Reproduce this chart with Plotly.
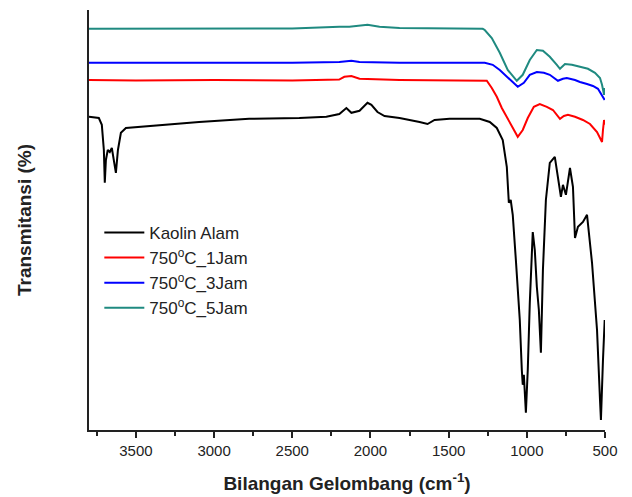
import plotly.graph_objects as go

# Wavenumber (cm-1) and relative transmittance
kaolin_w = [3800, 3737, 3718, 3705, 3699, 3692, 3680, 3667, 3654, 3641, 3628, 3615, 3596, 3564,
            3416, 3096, 2776, 2455, 2282, 2199, 2154, 2122, 2070, 2019, 1994, 1955, 1910, 1814,
            1686, 1635, 1590, 1494, 1301, 1237, 1192, 1154, 1128, 1115, 1103, 1090, 1070, 1045,
            1032, 1026, 1019, 1006, 994, 981, 962, 949, 936, 923, 910, 897, 878, 853, 821, 801,
            782, 769, 750, 724, 705, 692, 673, 641, 615, 583, 551, 532, 526, 513, 502]
kaolin_t = [78.3, 78.0, 76.3, 70.0, 61.8, 67.5, 70.0, 69.5, 70.5, 67.5, 64.3, 70.0, 74.3, 75.5,
            76.0, 77.0, 77.8, 78.0, 78.3, 79.0, 80.5, 79.3, 79.8, 81.8, 81.3, 79.5, 78.5, 78.0,
            77.0, 76.5, 77.5, 77.8, 77.8, 77.0, 75.5, 72.5, 65.8, 56.8, 57.5, 53.8, 42.5, 27.5,
            15.0, 11.3, 13.8, 4.3, 15.0, 31.8, 49.5, 45.0, 35.8, 30.0, 19.3, 40.0, 57.5, 66.8,
            68.3, 63.3, 58.3, 61.3, 58.8, 65.5, 60.8, 48.0, 50.8, 52.0, 53.8, 41.8, 25.0, 7.5,
            2.5, 17.5, 27.5]

j1_w = [3800, 3500, 3000, 2500, 2200, 2167, 2122, 2070, 1814, 1256, 1224, 1192, 1160, 1128,
        1090, 1058, 1026, 994, 955, 917, 872, 833, 788, 763, 737, 692, 641, 596, 551, 519, 513,
        506, 502]
j1_t = [87.5, 87.4, 87.5, 87.4, 87.6, 88.3, 88.5, 87.8, 87.5, 87.3, 85.5, 83.3, 80.5, 78.3,
        75.5, 73.3, 75.0, 78.0, 80.8, 81.5, 80.8, 80.0, 77.8, 78.5, 78.8, 78.3, 77.5, 76.5,
        74.5, 72.0, 75.0, 77.5, 76.3]

j3_w = [3800, 3500, 3000, 2500, 2199, 2122, 2070, 1814, 1269, 1218, 1173, 1109, 1058, 1019,
        981, 936, 891, 853, 801, 769, 744, 692, 660, 615, 577, 545, 519, 502]
j3_t = [91.8, 91.8, 91.8, 91.8, 92.0, 92.3, 92.0, 91.8, 91.8, 91.3, 90.0, 87.8, 85.8, 86.8,
        88.8, 89.5, 89.3, 88.8, 87.3, 87.8, 88.0, 87.5, 87.0, 86.5, 86.0, 85.3, 83.5, 82.5]

j5_w = [3800, 3500, 3000, 2500, 2199, 2135, 2019, 1942, 1814, 1282, 1269, 1224, 1173, 1122,
        1064, 1026, 981, 936, 897, 853, 808, 788, 756, 712, 660, 609, 564, 532, 519, 506, 502]
j5_t = [100.3, 100.3, 100.3, 100.4, 100.8, 100.8, 101.3, 100.8, 100.5, 100.3, 100.0, 98.0,
        94.3, 90.0, 87.3, 88.8, 92.5, 95.0, 94.8, 93.3, 91.3, 90.3, 91.5, 91.3, 90.8, 90.3,
        89.3, 88.0, 86.3, 83.8, 85.5]

series = [
    ("Kaolin Alam", kaolin_w, kaolin_t, "#000000"),
    ("750<sup>o</sup>C_1Jam", j1_w, j1_t, "#ff0000"),
    ("750<sup>o</sup>C_3Jam", j3_w, j3_t, "#0000ff"),
    ("750<sup>o</sup>C_5Jam", j5_w, j5_t, "#1f8a80"),
]

FONT = "Arial, 'Liberation Sans', sans-serif"

fig = go.Figure()
for name, w, t, c in series:
    fig.add_trace(go.Scatter(x=w, y=t, mode="lines", name=name,
                             line=dict(color=c, width=2)))

# the page body adds an 8px margin, so the figure is 624x489
fig.update_layout(
    width=624, height=489,
    margin=dict(l=81, r=27, t=2, b=67),
    paper_bgcolor="white", plot_bgcolor="white",
    font=dict(family=FONT, size=15, color="#222"),
    showlegend=True,
    legend=dict(x=0.020, y=0.512, xanchor="left", yanchor="top",
                font=dict(family=FONT, size=17, color="#222"),
                bgcolor="rgba(0,0,0,0)", itemwidth=40),
    xaxis=dict(range=[3800, 500], showline=True, linecolor="#222", linewidth=1.5,
               showgrid=False, zeroline=False, ticks="outside", ticklen=6, tickwidth=1.5,
               tickcolor="#222", tickvals=[3500, 3000, 2500, 2000, 1500, 1000, 500],
               minor=dict(tickvals=[3750, 3250, 2750, 2250, 1750, 1250, 750],
                          ticks="outside", ticklen=4, tickwidth=1.5, tickcolor="#222"),
               tickfont=dict(size=15),
               title=dict(text="<b>Bilangan Gelombang (cm<sup>-1</sup>)</b>",
                          font=dict(size=19), standoff=19),
               automargin=False),
    yaxis=dict(range=[0, 105], showline=True, linecolor="#222", linewidth=1.5,
               showgrid=False, zeroline=False, showticklabels=False, ticks="",
               title=dict(text="<b>Transmitansi (%)</b>", font=dict(size=19), standoff=51),
               automargin=False),
)

fig.write_html("out.html")
